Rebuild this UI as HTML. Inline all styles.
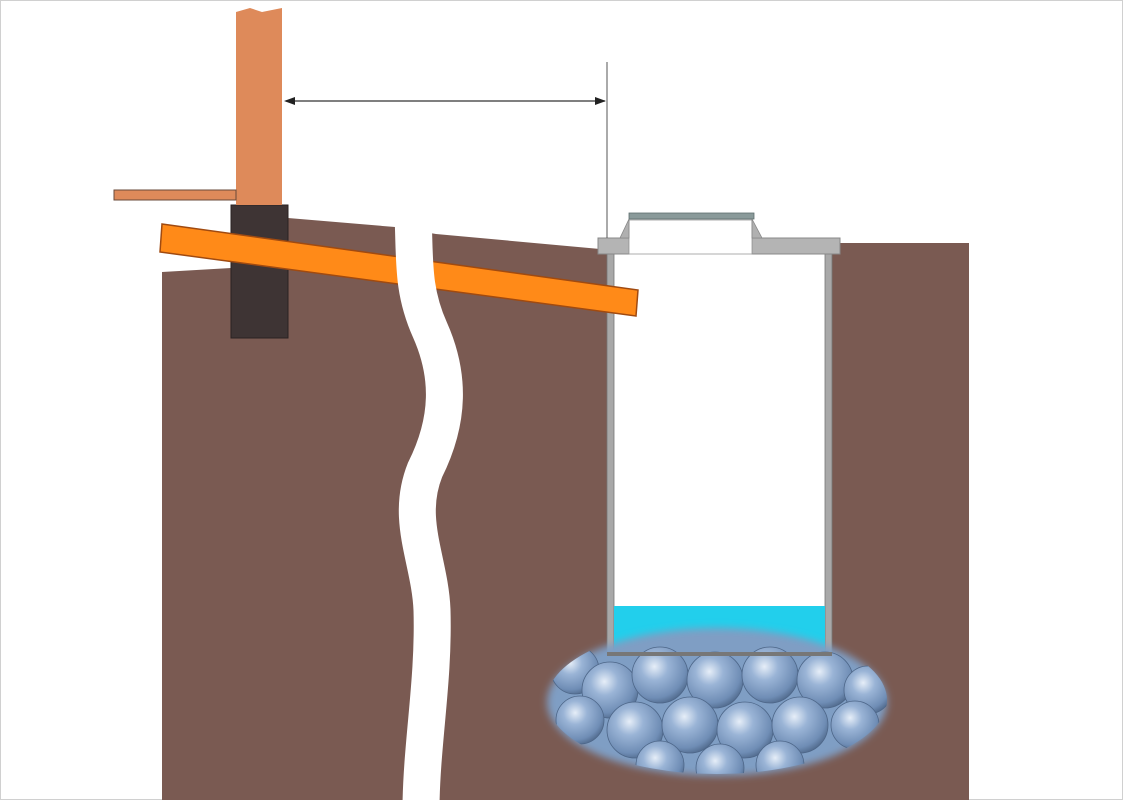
<!DOCTYPE html>
<html><head><meta charset="utf-8"><style>html,body{margin:0;padding:0;background:#fff}svg{display:block}</style></head>
<body>
<svg width="1123" height="800" viewBox="0 0 1123 800" xmlns="http://www.w3.org/2000/svg">
<defs>
<radialGradient id="st" cx="0.4" cy="0.35" r="0.7">
<stop offset="0" stop-color="#e6eef8"/><stop offset="0.35" stop-color="#9ab4d6"/><stop offset="0.8" stop-color="#6f8db5"/><stop offset="1" stop-color="#4d6688"/>
</radialGradient>
<filter id="bl"><feGaussianBlur stdDeviation="4"/></filter>
<clipPath id="cc"><ellipse cx="717" cy="700" rx="170" ry="74"/></clipPath>
</defs>
<rect x="0.5" y="0.5" width="1122" height="799" fill="#fff" stroke="#d0d0d0"/>
<!-- soil -->
<polygon points="162,272 231,268 231,206 288,206 288,218 395,227 436,234 600,249 608,249 608,800 162,800" fill="#7a5a52"/>
<polygon points="832,243 969,243 969,800 832,800" fill="#7a5a52"/>
<rect x="600" y="640" width="240" height="160" fill="#7a5a52"/>
<!-- shaft interior -->
<rect x="608" y="253" width="224" height="402" fill="#fff"/>
<rect x="607" y="253" width="7" height="402" fill="#a8a8a8" stroke="#777" stroke-width="0.8"/>
<rect x="825" y="253" width="7" height="402" fill="#a8a8a8" stroke="#777" stroke-width="0.8"/>
<rect x="614" y="606" width="211" height="47" fill="#22cfec"/>
<!-- foundation -->
<rect x="231" y="205" width="57" height="133" fill="#3e3434" stroke="#2a2222"/>
<!-- wall -->
<path d="M236,12 L250,8 L262,12 L282,8 L282,205 L236,205 Z" fill="#de8a5a"/>
<rect x="114" y="190" width="122" height="10" fill="#de8a5a" stroke="#6a4a3a" stroke-width="1"/>
<!-- pipe -->
<polygon points="162,224 638,290 636,316 160,252" fill="#ff8a18" stroke="#a04a10" stroke-width="1.5"/>
<!-- crack -->
<path d="M413,215 C415,260 412,290 430,330 C450,375 450,420 425,470 C405,520 430,560 432,610 C434,680 422,740 421,805" fill="none" stroke="#fff" stroke-width="37"/>
<!-- lid -->
<rect x="598" y="238" width="31" height="16" fill="#b4b4b4" stroke="#888"/>
<rect x="752" y="238" width="88" height="16" fill="#b4b4b4" stroke="#888"/>
<rect x="629" y="220" width="123" height="34" fill="#fff" stroke="#999" stroke-width="0.8"/>
<polygon points="629,219 629,238 620,238" fill="#b0b0b0" stroke="#888" stroke-width="0.8"/>
<polygon points="752,219 752,238 762,238" fill="#b0b0b0" stroke="#888" stroke-width="0.8"/>
<rect x="629" y="213" width="125" height="6" fill="#8a9a9a" stroke="#5f6f6f" stroke-width="0.8"/>
<!-- dimension -->
<line x1="607" y1="62" x2="607" y2="238" stroke="#555" stroke-width="1"/>
<line x1="286" y1="101" x2="605" y2="101" stroke="#333" stroke-width="1.2"/>
<polygon points="284,101 295,97 295,105" fill="#222"/>
<polygon points="606,101 595,97 595,105" fill="#222"/>
<!-- stones -->
<ellipse cx="717" cy="702" rx="170" ry="74" fill="#7f9ec4" filter="url(#bl)"/>
<g clip-path="url(#cc)" stroke="#4d6688" stroke-width="0.8">
<circle cx="575" cy="670" r="24" fill="url(#st)"/><circle cx="610" cy="690" r="28" fill="url(#st)"/>
<circle cx="660" cy="675" r="28" fill="url(#st)"/><circle cx="715" cy="680" r="28" fill="url(#st)"/>
<circle cx="770" cy="675" r="28" fill="url(#st)"/><circle cx="825" cy="680" r="28" fill="url(#st)"/>
<circle cx="868" cy="690" r="24" fill="url(#st)"/><circle cx="580" cy="720" r="24" fill="url(#st)"/>
<circle cx="635" cy="730" r="28" fill="url(#st)"/><circle cx="690" cy="725" r="28" fill="url(#st)"/>
<circle cx="745" cy="730" r="28" fill="url(#st)"/><circle cx="800" cy="725" r="28" fill="url(#st)"/>
<circle cx="855" cy="725" r="24" fill="url(#st)"/><circle cx="660" cy="765" r="24" fill="url(#st)"/>
<circle cx="720" cy="768" r="24" fill="url(#st)"/><circle cx="780" cy="765" r="24" fill="url(#st)"/>
</g>
<rect x="607" y="652" width="225" height="4" fill="#777"/>
</svg>
</body></html>
